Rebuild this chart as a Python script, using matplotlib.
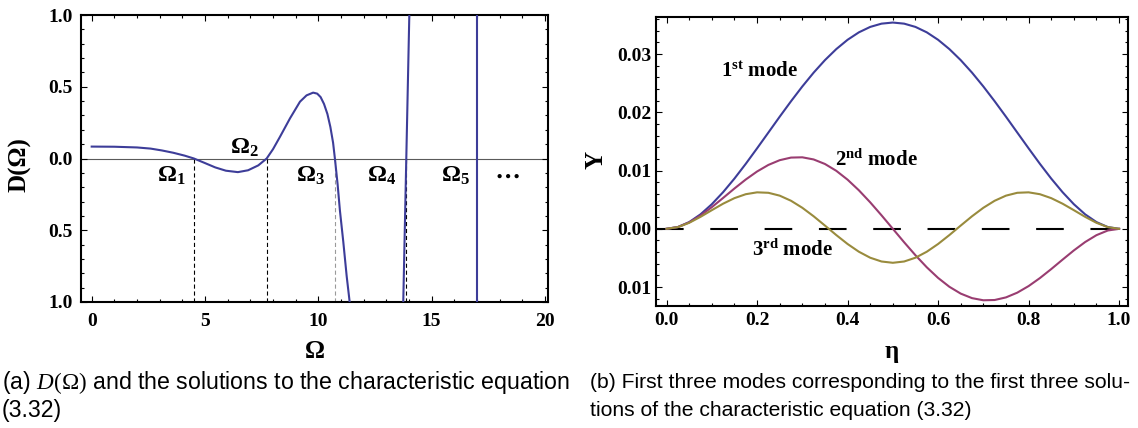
import matplotlib
matplotlib.use("Agg")
import matplotlib.pyplot as plt
from matplotlib.ticker import FuncFormatter, MultipleLocator

# ---------------- data: panel (a) ----------------
omega_curve = [0.0, 1.0, 2.0, 2.6, 3.1, 3.6, 4.1, 4.51, 5.0, 5.45, 5.92, 6.45, 6.9,
               7.35, 7.72, 8.0, 8.31, 8.75, 9.19, 9.48, 9.77, 9.95, 10.1, 10.25,
               10.4, 10.53, 10.65, 10.73, 10.85, 10.95, 11.1, 11.25, 11.44, 11.55]
d_curve = [0.083, 0.082, 0.077, 0.069, 0.056, 0.040, 0.020, 0.0, -0.032, -0.062,
           -0.085, -0.095, -0.082, -0.048, 0.0, 0.065, 0.152, 0.28, 0.396, 0.44,
           0.459, 0.452, 0.428, 0.38, 0.31, 0.22, 0.11, 0.0, -0.18, -0.36, -0.58,
           -0.82, -1.08, -1.25]
omega_branch4 = [13.72, 13.88, 14.04]
d_branch4 = [-1.2, 0.0, 1.2]
omega_branch5 = [17.0, 17.0]
d_branch5 = [-1.2, 1.2]
omega_roots = [4.51, 7.72, 10.73, 13.86]
root_labels = ["1", "2", "3", "4", "5"]
root_label_x = [3.52, 6.74, 9.63, 12.8, 16.04]
root_label_y = [-0.115, 0.082, -0.115, -0.115, -0.115]

# ---------------- data: panel (b) ----------------
eta = [0.0, 0.025, 0.05, 0.075, 0.1, 0.125, 0.15, 0.175, 0.2, 0.225, 0.25, 0.275,
       0.3, 0.325, 0.35, 0.375, 0.4, 0.425, 0.45, 0.475, 0.5, 0.525, 0.55, 0.575,
       0.6, 0.625, 0.65, 0.675, 0.7, 0.725, 0.75, 0.775, 0.8, 0.825, 0.85, 0.875,
       0.9, 0.925, 0.95, 0.975, 1.0]
mode1 = [0.0, 0.00030, 0.00115, 0.00248, 0.00422, 0.00629, 0.00862, 0.01115,
         0.01381, 0.01652, 0.01924, 0.02189, 0.02443, 0.02680, 0.02895, 0.03084,
         0.03244, 0.03372, 0.03465, 0.03521, 0.03540, 0.03521, 0.03465, 0.03372,
         0.03244, 0.03084, 0.02895, 0.02680, 0.02443, 0.02189, 0.01924, 0.01652,
         0.01381, 0.01115, 0.00862, 0.00629, 0.00422, 0.00248, 0.00115, 0.00030, 0.0]
mode2 = [0.0, 0.000294, 0.001092, 0.002273, 0.003714, 0.005299, 0.006915, 0.008458,
         0.009834, 0.010962, 0.011775, 0.012222, 0.012269, 0.011902, 0.011124,
         0.009955, 0.008431, 0.006606, 0.004541, 0.002313, 0.0, -0.002313, -0.004541,
         -0.006606, -0.008431, -0.009955, -0.011124, -0.011902, -0.012269, -0.012222,
         -0.011775, -0.010962, -0.009834, -0.008458, -0.006915, -0.005299, -0.003714,
         -0.002273, -0.001092, -0.000294, 0.0]
mode3 = [0.0, 0.000285, 0.001025, 0.002050, 0.003196, 0.004311, 0.005261, 0.005936,
         0.006257, 0.006179, 0.005689, 0.004812, 0.003605, 0.002150, 0.000552,
         -0.001073, -0.002608, -0.003938, -0.004965, -0.005613, -0.005835, -0.005613,
         -0.004965, -0.003938, -0.002608, -0.001073, 0.000552, 0.002150, 0.003605,
         0.004812, 0.005689, 0.006179, 0.006257, 0.005936, 0.005261, 0.004311,
         0.003196, 0.002050, 0.001025, 0.000285, 0.0]
mode_names = ["1", "2", "3"]
mode_sup = ["st", "nd", "rd"]
mode_label_x = [0.205, 0.464, 0.278]
mode_label_y = [0.0270, 0.01185, -0.0036]

# ---------------- style ----------------
plt.rcParams['mathtext.fontset'] = 'custom'
plt.rcParams['mathtext.rm'] = 'Liberation Serif'
plt.rcParams['mathtext.bf'] = 'Liberation Serif:bold'
plt.rcParams['mathtext.it'] = 'Liberation Serif:italic'
plt.rcParams['lines.scale_dashes'] = False

SERIF = 'Liberation Serif'
c1 = (0.24, 0.24, 0.6)
c2 = (0.6, 0.24, 0.4428)
c3 = (0.6, 0.547, 0.24)

fig = plt.figure(figsize=(11.38, 4.28), dpi=100)
W, H = 1138.0, 428.0
axA = fig.add_axes([81.4 / W, 1 - 302 / H, (547.5 - 81.4) / W, (302 - 15) / H])
axB = fig.add_axes([655.7 / W, 1 - 305.7 / H, (1127.7 - 655.7) / W, (305.7 - 17.3) / H])

def style_axes(ax, xpad, ypad):
    for s in ax.spines.values():
        s.set_linewidth(1.5)
        s.set_color('black')
    ax.tick_params(which='both', direction='in', top=True, right=True, width=0.8,
                   colors='black')
    ax.tick_params(which='major', length=4)
    ax.tick_params(which='minor', length=2.2)
    ax.tick_params(axis='x', which='major', pad=xpad)
    ax.tick_params(axis='y', which='major', pad=ypad)
    for lab in ax.get_xticklabels() + ax.get_yticklabels():
        lab.set_fontfamily(SERIF)
        lab.set_fontweight('bold')
        lab.set_fontsize(14)

# ---------------- panel (a) ----------------
axA.set_xlim(-0.454, 20.11)
axA.set_ylim(-1, 1)
axA.axhline(0, color='#5a5a5a', lw=0.8, zorder=1)
for i, r in enumerate(omega_roots):
    col = '#9a9a9a' if i == 2 else 'black'
    axA.plot([r, r], [0, -1], color=col, lw=0.8, ls=(0, (3, 2)), zorder=2)
axA.plot(omega_curve, d_curve, color=c1, lw=1.5, zorder=3)
axA.plot(omega_branch4, d_branch4, color=c1, lw=1.5, zorder=3)
axA.plot(omega_branch5, d_branch5, color=c1, lw=1.5, zorder=3)
for lx, ly, t in zip(root_label_x, root_label_y, root_labels):
    axA.text(lx, ly, r'$\mathbf{\Omega}_{\mathbf{%s}}$' % t, fontsize=17,
             ha='center', va='center')
axA.text(18.32, -0.115, r'$\mathbf{\cdots}$', fontsize=18, ha='center', va='center')
axA.xaxis.set_major_locator(MultipleLocator(5))
axA.xaxis.set_minor_locator(MultipleLocator(1))
axA.yaxis.set_major_locator(MultipleLocator(0.5))
axA.yaxis.set_minor_locator(MultipleLocator(0.1))
axA.xaxis.set_major_formatter(FuncFormatter(lambda v, p: f"{v:.0f}"))
axA.yaxis.set_major_formatter(FuncFormatter(lambda v, p: f"{abs(v):.1f}"))
style_axes(axA, 8, 6)
axA.set_xlabel('Ω', fontfamily=SERIF, fontweight='bold', fontsize=18, va='center')
axA.xaxis.set_label_coords(0.5, -0.174)
axA.set_ylabel('D(Ω)', fontfamily=SERIF, fontweight='bold', fontsize=18, va='center')
axA.yaxis.set_label_coords(-0.132, 0.48)

# ---------------- panel (b) ----------------
axB.set_xlim(-0.024, 1.019)
axB.set_ylim(-0.0132, 0.0363)
axB.plot([-0.024, 1.0], [0, 0], color='black', lw=1.5, dashes=(19.9, 19.2), zorder=1)
axB.plot(eta, mode1, color=c1, lw=1.5, zorder=3)
axB.plot(eta, mode2, color=c2, lw=1.5, zorder=3)
axB.plot(eta, mode3, color=c3, lw=1.5, zorder=3)
for lx, ly, n, s in zip(mode_label_x, mode_label_y, mode_names, mode_sup):
    axB.text(lx, ly, n + r'$^{\mathbf{%s}}$' % s + ' mode', fontfamily=SERIF,
             fontweight='bold', fontsize=15, ha='center', va='center')
axB.xaxis.set_major_locator(MultipleLocator(0.2))
axB.xaxis.set_minor_locator(MultipleLocator(0.05))
axB.yaxis.set_major_locator(MultipleLocator(0.01))
axB.yaxis.set_minor_locator(MultipleLocator(0.002))
axB.xaxis.set_major_formatter(FuncFormatter(lambda v, p: f"{v:.1f}"))
axB.yaxis.set_major_formatter(FuncFormatter(lambda v, p: f"{abs(v):.2f}"))
style_axes(axB, 4.5, 3)
axB.set_xlabel('η', fontfamily=SERIF, fontweight='bold', fontsize=18, va='center')
axB.xaxis.set_label_coords(0.5, -0.16)
axB.set_ylabel('Y', fontfamily=SERIF, fontweight='bold', fontsize=18, va='center')
axB.yaxis.set_label_coords(-0.126, 0.505)

# ---------------- captions ----------------
cap_font = 'Liberation Sans'
fig.text(2 / W, 1 - 383 / H,
         r'(a) $D(\Omega)$ and the solutions to the characteristic equation',
         fontfamily=cap_font, fontsize=16.7, ha='left', va='center')
fig.text(2 / W, 1 - 410 / H, '(3.32)', fontfamily=cap_font, fontsize=16.7,
         ha='left', va='center')
fig.text(590 / W, 1 - 383 / H,
         '(b) First three modes corresponding to the first three solu-',
         fontfamily=cap_font, fontsize=15.2, ha='left', va='center')
fig.text(590 / W, 1 - 410 / H,
         'tions of the characteristic equation (3.32)',
         fontfamily=cap_font, fontsize=15.2, ha='left', va='center')

fig.savefig('out.png', dpi=100)
